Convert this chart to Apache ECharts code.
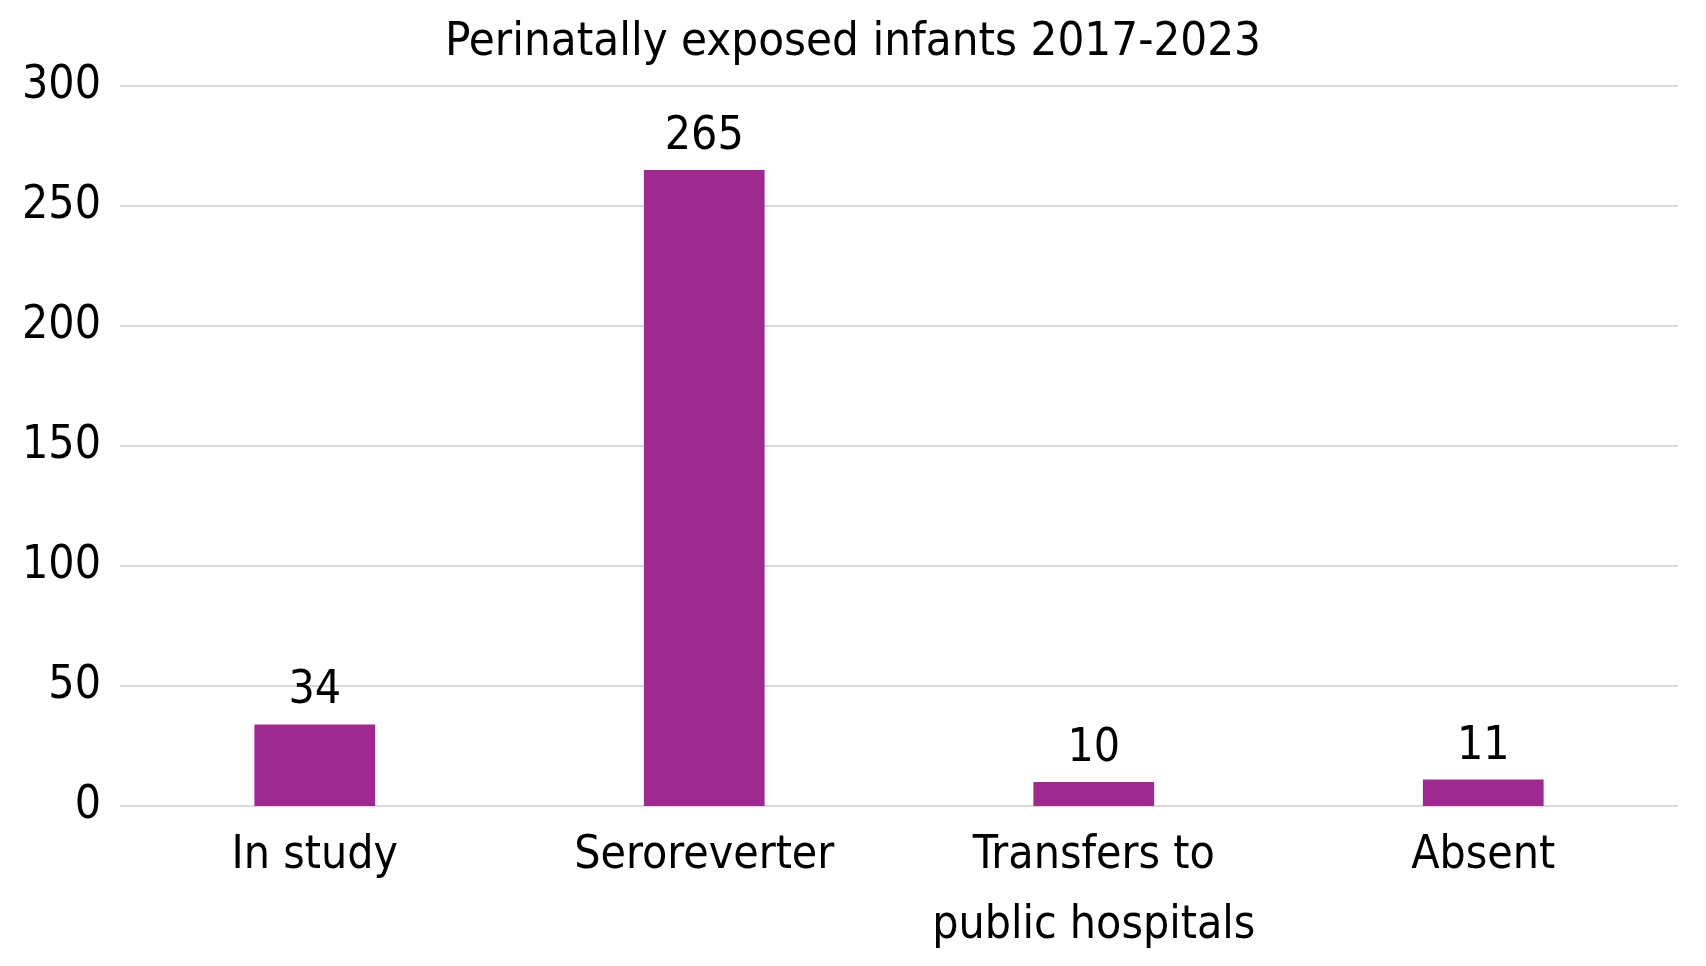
<!DOCTYPE html>
<html>
<head>
<meta charset="utf-8">
<script src="https://cdn.jsdelivr.net/npm/echarts@6/dist/echarts.min.js"></script>
<style>
  html, body { margin: 0; padding: 0; background: #fff; }
  #chart { width: 1706px; height: 966px; }
</style>
</head>
<body>
<div id="chart"></div>
<script>
const categories = ['In study', 'Seroreverter', 'Transfers to\npublic hospitals', 'Absent'];
const infants = [34, 265, 10, 11];
const yTicks = { min: 0, max: 300, interval: 50 };

const FONT = '"DejaVu Sans Condensed", "DejaVu Sans", sans-serif';

const chart = echarts.init(document.getElementById('chart'));
chart.setOption({
    backgroundColor: '#ffffff',
    animation: false,
    title: {
        text: 'Perinatally exposed infants 2017-2023',
        left: 'center',
        top: 14,
        textStyle: { fontFamily: FONT, fontSize: 47, fontWeight: 'normal', color: '#000' }
    },
    grid: { left: 120, right: 28, top: 86, bottom: 160 },
    xAxis: {
        type: 'category',
        data: categories,
        axisLine: { show: false },
        axisTick: { show: false },
        axisLabel: {
            fontFamily: FONT, fontSize: 46, color: '#000',
            margin: 15, lineHeight: 70, interval: 0
        }
    },
    yAxis: {
        type: 'value',
        min: yTicks.min,
        max: yTicks.max,
        interval: yTicks.interval,
        axisLine: { show: false },
        axisTick: { show: false },
        splitLine: { lineStyle: { color: '#d9d9d9', width: 2 } },
        axisLabel: { fontFamily: FONT, fontSize: 46, color: '#000', margin: 19 }
    },
    series: [{
        type: 'bar',
        data: infants,
        barWidth: '31%',
        itemStyle: { color: '#9e2a8f' },
        label: {
            show: true, position: 'top', distance: 10,
            fontFamily: FONT, fontSize: 46, color: '#000'
        }
    }]
});
</script>
</body>
</html>
